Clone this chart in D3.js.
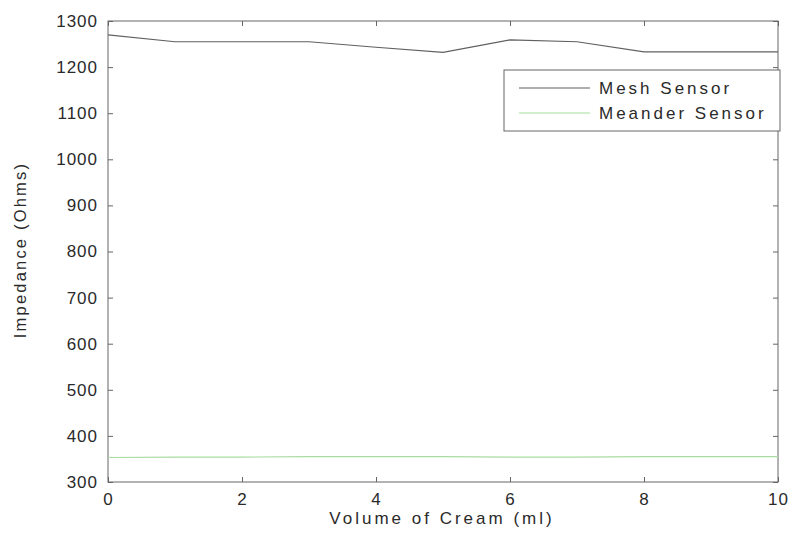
<!DOCTYPE html>
<html>
<head>
<meta charset="utf-8">
<script src="https://cdn.jsdelivr.net/npm/d3@7/dist/d3.min.js"></script>
<style>
  html, body { margin: 0; padding: 0; background: #fff; }
  svg { display: block; font-family: "Liberation Sans", Arial, sans-serif; }
</style>
</head>
<body>
<svg id="chart" width="791" height="536"></svg>
<script>
// Cream volume (ml)
const volume = [0, 1, 2, 3, 4, 5, 6, 7, 8, 9, 10];
// Impedance readings (Ohms)
const meshSensor = [1270, 1255, 1255, 1255, 1243, 1232, 1259, 1255, 1233, 1233, 1233];
const meanderSensor = [353, 354, 354, 355, 355, 355, 354, 354, 355, 355, 355];
const xTicks = [0, 2, 4, 6, 8, 10];
const yTicks = [300, 400, 500, 600, 700, 800, 900, 1000, 1100, 1200, 1300];
const seriesNames = ["Mesh Sensor", "Meander Sensor"];
const seriesColors = ["#606060", "#a8dca0"];

const margin = { left: 108, top: 21, right: 13, bottom: 54 };
const W = 791, H = 536;
const svg = d3.select("#chart");

const x = d3.scaleLinear().domain([0, 10]).range([margin.left, W - margin.right]);
const y = d3.scaleLinear().domain([300, 1300]).range([H - margin.bottom, margin.top]);

const axisColor = "#666";
const textColor = "#2a2a2a";
const fmt = d3.format("d");

// frame
svg.append("rect")
  .attr("x", x(0)).attr("y", y(1300))
  .attr("width", x(10) - x(0)).attr("height", y(300) - y(1300))
  .attr("fill", "none").attr("stroke", axisColor).attr("stroke-width", 1);

// inward ticks on all four sides
const tl = 5;
function styleAxis(g) {
  g.attr("font-family", "Liberation Sans, Arial, sans-serif").attr("font-size", 17);
  g.select(".domain").remove();
  g.selectAll(".tick line").attr("stroke", axisColor);
  g.selectAll(".tick text").attr("fill", textColor).attr("letter-spacing", 1);
}
svg.append("g").attr("transform", `translate(0,${y(300)})`)
  .call(d3.axisBottom(x).tickValues(xTicks).tickFormat(fmt).tickSizeInner(-tl).tickSizeOuter(0).tickPadding(11))
  .call(styleAxis);
svg.append("g").attr("transform", `translate(0,${y(1300)})`)
  .call(d3.axisTop(x).tickValues(xTicks).tickSizeInner(-tl).tickSizeOuter(0).tickFormat(""))
  .call(styleAxis);
svg.append("g").attr("transform", `translate(${x(0)},0)`)
  .call(d3.axisLeft(y).tickValues(yTicks).tickFormat(fmt).tickSizeInner(-tl).tickSizeOuter(0).tickPadding(10))
  .call(styleAxis);
svg.append("g").attr("transform", `translate(${x(10)},0)`)
  .call(d3.axisRight(y).tickValues(yTicks).tickSizeInner(-tl).tickSizeOuter(0).tickFormat(""))
  .call(styleAxis);

// series
const line = d3.line().x((d, i) => x(volume[i])).y(d => y(d));
[meshSensor, meanderSensor].forEach((vals, k) => {
  svg.append("path").datum(vals)
    .attr("d", line).attr("fill", "none")
    .attr("stroke", seriesColors[k]).attr("stroke-width", 1.1);
});

// axis titles
svg.append("text")
  .attr("x", (x(0) + x(10)) / 2 - 1).attr("y", 524)
  .attr("text-anchor", "middle").attr("font-size", 17).attr("letter-spacing", 3)
  .attr("fill", textColor).text("Volume of Cream (ml)");
svg.append("text")
  .attr("transform", `translate(26,250) rotate(-90)`)
  .attr("text-anchor", "middle").attr("font-size", 16.5).attr("letter-spacing", 2.2)
  .attr("fill", textColor).text("Impedance (Ohms)");

// legend
const lg = svg.append("g");
lg.append("rect").attr("x", 504).attr("y", 70).attr("width", 276).attr("height", 61)
  .attr("fill", "#fff").attr("stroke", axisColor).attr("stroke-width", 1);
seriesNames.forEach((name, k) => {
  const ly = 88 + k * 25;
  lg.append("line").attr("x1", 519).attr("x2", 590).attr("y1", ly).attr("y2", ly)
    .attr("stroke", seriesColors[k]).attr("stroke-width", 1.1);
  lg.append("text").attr("x", 599).attr("y", ly + 6)
    .attr("font-size", 17).attr("letter-spacing", 3).attr("fill", textColor).text(name);
});
</script>
</body>
</html>
